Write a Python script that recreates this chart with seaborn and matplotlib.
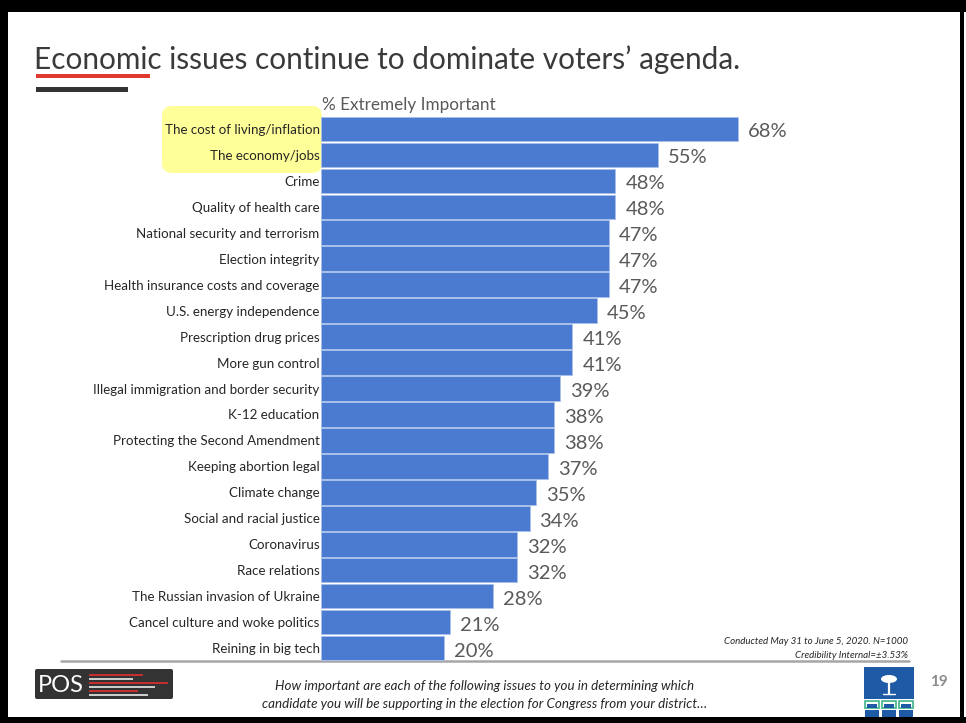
import matplotlib
matplotlib.use("Agg")
import matplotlib.pyplot as plt
import seaborn as sns
import pandas as pd
from matplotlib.patches import Rectangle, FancyBboxPatch, Ellipse

categories = [
    "The cost of living/inflation", "The economy/jobs", "Crime", "Quality of health care",
    "National security and terrorism", "Election integrity", "Health insurance costs and coverage",
    "U.S. energy independence", "Prescription drug prices", "More gun control",
    "Illegal immigration and border security", "K-12 education", "Protecting the Second Amendment",
    "Keeping abortion legal", "Climate change", "Social and racial justice", "Coronavirus",
    "Race relations", "The Russian invasion of Ukraine", "Cancel culture and woke politics",
    "Reining in big tech",
]
values = [68, 55, 48, 48, 47, 47, 47, 45, 41, 41, 39, 38, 38, 37, 35, 34, 32, 32, 28, 21, 20]
title = "Economic issues continue to dominate voters\u2019 agenda."
subtitle = "% Extremely Important"
note_lines = ["Conducted May 31 to June 5, 2020. N=1000", "Credibility Internal=\u00b13.53%"]
question_lines = ["How important are each of the following issues to you in determining which",
                  "candidate you will be supporting in the election for Congress from your district\u2026"]
page_number = "19"

sns.set_theme(style="white")
plt.rcParams['font.family'] = ['Lato', 'DejaVu Sans']

W, H = 966, 723
fig = plt.figure(figsize=(W / 100, H / 100), dpi=100)
fig.patch.set_facecolor("white")

# decoration layer in pixel coordinates
deco = fig.add_axes([0, 0, 1, 1], zorder=0)
deco.set_xlim(0, W)
deco.set_ylim(H, 0)
deco.axis("off")

# border
deco.add_patch(Rectangle((0, 0), W, 12, color="black", lw=0))
deco.add_patch(Rectangle((0, 0), 8, H, color="black", lw=0))
deco.add_patch(Rectangle((960, 0), 3.5, H, color="black", lw=0))
deco.add_patch(Rectangle((0, 717), W, 6, color="black", lw=0))

# title and underline bars
deco.text(34, 60, title, fontsize=21.4, color="#3A3A3A", va="center", ha="left")
deco.add_patch(Rectangle((36, 74), 114, 4, color="#E03A30", lw=0))
deco.add_patch(Rectangle((36, 87), 92, 5, color="#333333", lw=0))

# yellow highlight
deco.add_patch(FancyBboxPatch((162, 106), 160, 67, boxstyle="round,pad=0,rounding_size=10",
                              facecolor="#FFFF99", edgecolor="none"))

deco.text(322, 105, subtitle, fontsize=12.3, color="#595959", va="center", ha="left")

# bottom rule
deco.plot([61, 909], [661, 661], color="#A6A6A6", lw=1.8)

# notes
deco.text(908, 642, note_lines[0], fontsize=7.0, style="italic", color="#262626", ha="right", va="center")
deco.text(908, 655, note_lines[1], fontsize=7.0, style="italic", color="#262626", ha="right", va="center")

# question
deco.text(485, 686, question_lines[0], fontsize=9.6, style="italic", color="#262626", ha="center", va="center")
deco.text(485, 704, question_lines[1], fontsize=9.6, style="italic", color="#262626", ha="center", va="center")

# POS logo
deco.add_patch(FancyBboxPatch((35, 669), 138, 30, boxstyle="round,pad=0,rounding_size=2",
                              facecolor="#333333", edgecolor="none"))
deco.text(38, 685, "POS", fontsize=17, color="white", va="center", ha="left")
for y, x1, c in [(675, 143, "#D32F2F"), (679, 133, "#DDDDDD"), (683, 168, "#D32F2F"),
                 (687, 155, "#DDDDDD"), (691, 138, "#D32F2F"), (695, 148, "#DDDDDD")]:
    deco.plot([89, x1], [y, y], color=c, lw=1.3, solid_capstyle="butt")

# right logo
deco.add_patch(Rectangle((864, 667), 50, 32, color="#1F5AA6", lw=0))
deco.plot([889, 889], [680, 694], color="white", lw=1.6)
deco.add_patch(Ellipse((889, 679), 16, 8, color="white", lw=0))
deco.plot([883, 895], [694, 694], color="white", lw=1)
for cx in [872, 889, 906]:
    deco.add_patch(Rectangle((cx - 7, 701), 14, 7, facecolor="white", edgecolor="#3CB48C", lw=1.2))
    deco.add_patch(Rectangle((cx - 5, 704), 10, 4, color="#1F5AA6", lw=0))
    deco.add_patch(Rectangle((cx - 7, 710), 14, 7, color="#1F5AA6", lw=0))
deco.text(930, 682, page_number, fontsize=11, color="#8C8C8C", fontweight="bold", va="center", ha="left")

# bar chart axes
x0_px, y_top, y_bot = 321, 116, 661
px_per_unit = (738 - 321) / 68
ax_w_px = px_per_unit * 100
ax = fig.add_axes([x0_px / W, (H - y_bot) / H, ax_w_px / W, (y_bot - y_top) / H], zorder=2)
ax.patch.set_alpha(0)

df = pd.DataFrame({"issue": categories, "pct": values})
sns.barplot(data=df, y="issue", x="pct", orient="h", color="#4A7BD0", saturation=1,
            width=0.95, edgecolor="#A9C0EA", linewidth=0.7, ax=ax)
ax.set_xlim(0, 100)
ax.set_ylim(len(categories) - 0.5, -0.5)
for i, v in enumerate(values):
    ax.annotate(f"{v}%", xy=(v, i), xytext=(10, -3), textcoords="offset pixels",
                ha="left", va="center", fontsize=14.5, color="#595959")
ax.set_xlabel("")
ax.set_ylabel("")
ax.set_xticks([])
ax.tick_params(axis="y", length=0, pad=1, labelsize=9.6, labelcolor="#262626")
for s in ax.spines.values():
    s.set_visible(False)

fig.savefig("out.png", dpi=100)
